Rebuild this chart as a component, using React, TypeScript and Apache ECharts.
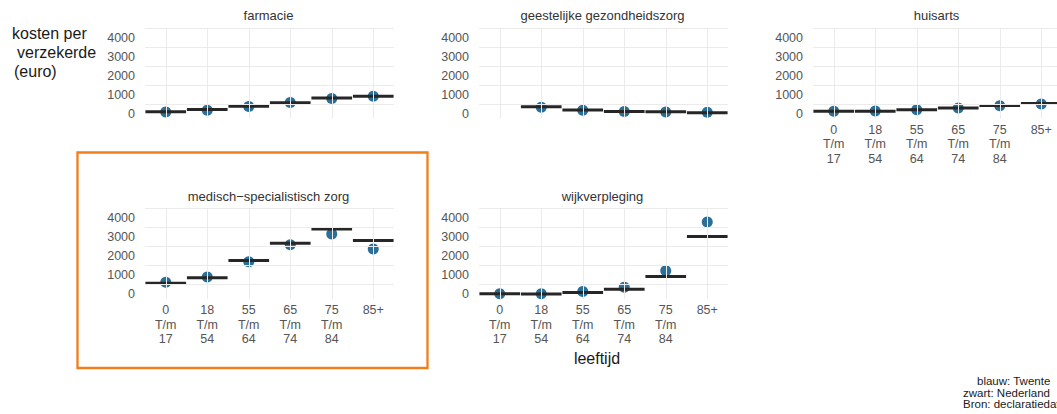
import React, { useEffect, useRef } from "react";
import * as echarts from "echarts";

// ---- data ----
const ageGroups = ["0\nT/m\n17", "18\nT/m\n54", "55\nT/m\n64", "65\nT/m\n74", "75\nT/m\n84", "85+"];
const panelTitles = [
  "farmacie",
  "geestelijke gezondheidszorg",
  "huisarts",
  "medisch\u2212specialistisch zorg",
  "wijkverpleging",
];
// blauw: Twente, zwart: Nederland (kosten per verzekerde, euro)
const farmacieTwente = [90, 190, 380, 590, 800, 930];
const farmacieNederland = [100, 230, 400, 580, 830, 930];
const ggzTwente = [null, 340, 180, 125, 90, 85];
const ggzNederland = [null, 370, 200, 125, 110, 60];
const huisartsTwente = [130, 140, 210, 300, 420, 520];
const huisartsNederland = [130, 130, 210, 310, 440, 540];
const mszTwente = [630, 900, 1700, 2600, 3160, 2370];
const mszNederland = [580, 870, 1770, 2680, 3420, 2820];
const wijkTwente = [20, 20, 140, 370, 1230, 3790];
const wijkNederland = [20, 10, 90, 260, 930, 3030];
const yTickLabels = [0, 1000, 2000, 3000, 4000];
const gridLevels = [500, 1500, 2500, 3500, 4500];
const yTitleLines = ["kosten per", "verzekerde", "(euro)"];
const xTitle = "leeftijd";
const captionLines = ["blauw: Twente", "zwart: Nederland", "Bron: declaratiedata"];

const twenteSeries = [farmacieTwente, ggzTwente, huisartsTwente, mszTwente, wijkTwente];
const nederlandSeries = [farmacieNederland, ggzNederland, huisartsNederland, mszNederland, wijkNederland];

// ---- layout ----
const FONT = "'Liberation Sans', Arial, sans-serif";
const PANEL_W = 249;
const panels = [
  { left: 145, top: 28.5, height: 90, showX: false, titleY: 15 },
  { left: 479, top: 28.5, height: 90, showX: false, titleY: 15 },
  { left: 813, top: 28.5, height: 90, showX: true, titleY: 15 },
  { left: 145, top: 208.5, height: 90.5, showX: true, titleY: 196 },
  { left: 479, top: 208.5, height: 90.5, showX: true, titleY: 196 },
];

export default function App() {
  const ref = useRef<HTMLDivElement>(null);

  useEffect(() => {
    if (!ref.current) return;
    const chart = echarts.init(ref.current, null, { renderer: "svg" });

    const grid: any[] = [];
    const xAxis: any[] = [];
    const yAxis: any[] = [];
    const series: any[] = [];
    const graphic: any[] = [];

    panels.forEach((p, i) => {
      grid.push({
        left: p.left,
        top: p.top,
        width: PANEL_W,
        height: p.height,
        containLabel: false,
        outerBoundsMode: "none",
      });
      xAxis.push({
        type: "category",
        gridIndex: i,
        data: ageGroups,
        boundaryGap: true,
        axisLine: { show: false },
        axisTick: { show: false },
        splitLine: { show: false },
        axisLabel: {
          show: p.showX,
          interval: 0,
          margin: 4,
          fontSize: 12.5,
          lineHeight: 14.5,
          color: "#555555",
          fontFamily: FONT,
        },
      });
      yAxis.push({
        type: "value",
        gridIndex: i,
        min: -250,
        max: 4500,
        interval: 250,
        axisLine: { show: false },
        axisTick: { show: false },
        splitLine: { show: false },
        axisLabel: {
          margin: 10,
          fontSize: 12.5,
          color: "#555555",
          fontFamily: FONT,
          formatter: (v: number) => (yTickLabels.indexOf(v) >= 0 ? String(v) : ""),
        },
      });
      // grid lines
      series.push({
        type: "line",
        xAxisIndex: i,
        yAxisIndex: i,
        data: [],
        z: 1,
        silent: true,
        markLine: {
          silent: true,
          symbol: ["none", "none"],
          label: { show: false },
          lineStyle: { color: "#ebebeb", width: 1, type: "solid" },
          data: [
            ...gridLevels.map((v) => ({ yAxis: v })),
            ...ageGroups.map((_, j) => ({ xAxis: j })),
          ],
        },
      });
      const tw = twenteSeries[i]
        .map((v, j) => (v == null ? null : [j, v]))
        .filter((d) => d !== null);
      const nl = nederlandSeries[i]
        .map((v, j) => (v == null ? null : [j, v]))
        .filter((d) => d !== null);
      series.push({
        type: "scatter",
        xAxisIndex: i,
        yAxisIndex: i,
        data: tw,
        symbol: "circle",
        symbolSize: 11,
        itemStyle: { color: "#2b6f97", opacity: 1 },
        z: 2,
        silent: true,
      });
      series.push({
        type: "custom",
        xAxisIndex: i,
        yAxisIndex: i,
        data: nl,
        z: 3,
        silent: true,
        renderItem: (params: any, api: any) => {
          const c = api.coord([api.value(0), api.value(1)]);
          const w = api.size([1, 0])[0];
          return {
            type: "line",
            shape: { x1: c[0] - w * 0.49, y1: c[1], x2: c[0] + w * 0.49, y2: c[1] },
            style: { stroke: "#262626", lineWidth: 3 },
          };
        },
      });
      graphic.push({
        type: "text",
        x: p.left + PANEL_W / 2 - 1,
        y: p.titleY,
        style: {
          text: panelTitles[i],
          font: `13px ${FONT}`,
          fill: "#333333",
          align: "center",
          verticalAlign: "middle",
        },
      });
    });

    const yTitleX = [12, 17, 14];
    const yTitleY = [33, 52, 71];
    yTitleLines.forEach((t, k) => {
      graphic.push({
        type: "text",
        x: yTitleX[k],
        y: yTitleY[k],
        style: { text: t, font: `16px ${FONT}`, fill: "#1a1a1a", align: "left", verticalAlign: "middle" },
      });
    });

    graphic.push({
      type: "text",
      x: 597,
      y: 358,
      style: { text: xTitle, font: `16px ${FONT}`, fill: "#1a1a1a", align: "center", verticalAlign: "middle" },
    });

    const capX = [977, 963, 963];
    const capY = [381, 392.5, 404];
    captionLines.forEach((t, k) => {
      graphic.push({
        type: "text",
        x: capX[k],
        y: capY[k],
        style: { text: t, font: `11.5px ${FONT}`, fill: "#1a1a1a", align: "left", verticalAlign: "middle" },
      });
    });

    // orange highlight box
    graphic.push({
      type: "rect",
      shape: { x: 77.5, y: 152.5, width: 350, height: 215.5 },
      style: { fill: "none", stroke: "#f07e1c", lineWidth: 2.3 },
      z: 10,
    });

    chart.setOption({
      animation: false,
      backgroundColor: "#ffffff",
      grid,
      xAxis,
      yAxis,
      series,
      graphic,
    });

    return () => chart.dispose();
  }, []);

  return (
    <div
      ref={ref}
      style={{ position: "fixed", left: 0, top: 0, width: 1057, height: 414, background: "#fff" }}
    />
  );
}
